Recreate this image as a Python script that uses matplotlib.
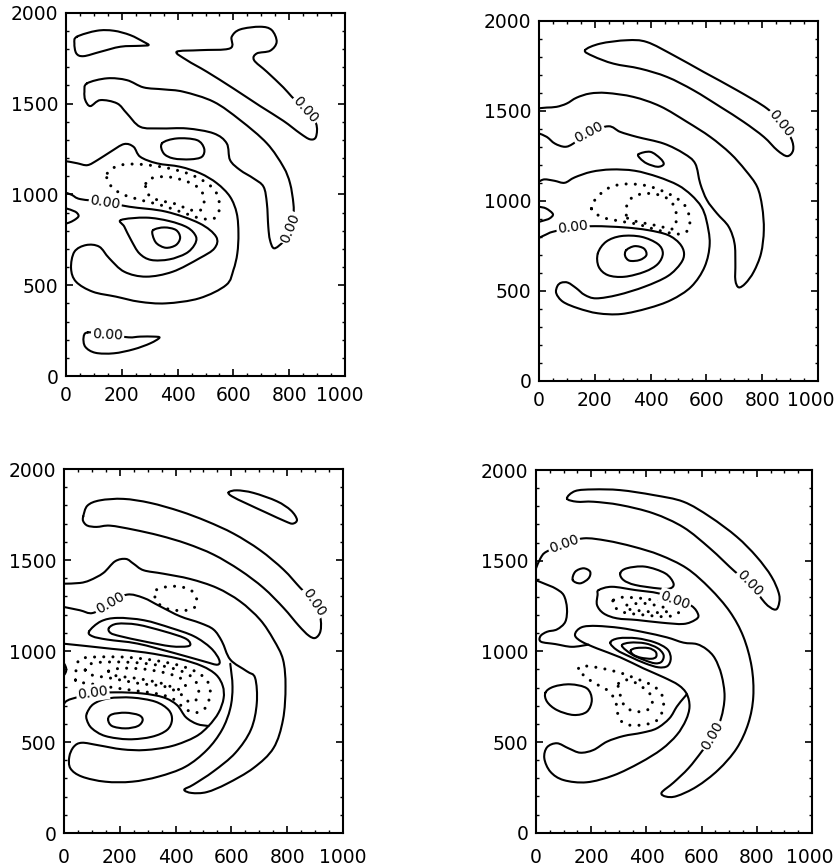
import numpy as np
import matplotlib
matplotlib.use("Agg")
import matplotlib.pyplot as plt
from matplotlib.path import Path
from matplotlib.patches import PathPatch
from matplotlib.ticker import MultipleLocator, FuncFormatter
from matplotlib.transforms import offset_copy

# contour traces, data units (x 0-1000, y 0-2000)

# ---- top left
tl_blob = [(39,1868),(111,1901),(171,1901),(230,1877),(278,1840),(296,1822),(266,1818),
           (195,1813),(123,1785),(63,1761),(37,1776),(30,1831)]
tl_hook = [(397,1785),(481,1794),(588,1804),(594,1868),(624,1908),(696,1923),(737,1905),
           (755,1840),(732,1791),(684,1776),(674,1739),(720,1675),(779,1589),(809,1538),
           (857,1464),(896,1391),(896,1317),(875,1303),(839,1336),(779,1405),(696,1486),
           (600,1583),(505,1675),(433,1739)]
tl_arc = [(75,1611),(147,1639),(218,1629),(278,1589),(350,1578),(421,1565),(529,1510),
          (624,1409),(720,1281),(779,1152),(803,1061),(815,950),(815,877),(803,785),
          (779,739),(746,703),(731,749),(725,822),(720,950),(708,1042),(672,1088),
          (624,1134),(588,1189),(576,1281),(529,1336),(433,1363),(338,1363),(266,1372),
          (218,1446),(183,1501),(123,1519),(87,1486),(69,1519),(66,1565)]
tl_small = [(344,1281),(397,1308),(469,1299),(495,1253),(487,1207),(445,1193),(385,1198),(350,1226)]
tl_band = [(0,1182),(11,1180),(41,1171),(77,1161),(113,1189),(160,1235),(208,1277),(242,1262),
           (266,1207),(326,1171),(409,1152),(481,1116),(541,1061),(588,987),(612,895),
           (618,785),(614,675),(600,584),(574,501),(478,428),(358,400),(263,409),(179,437),
           (96,464),(36,519),(18,593),(30,684),(72,721),(119,712),(155,648),(209,574),
           (287,547),(382,574),(478,648),(532,703),(538,767),(478,841),(358,905),(227,932),
           (141,958),(51,974),(21,997),(0,1009)]
tl_tri = [(197,859),(287,872),(370,853),(436,817),(466,767),(460,721),(430,675),(370,642),
          (305,639),(263,675),(233,749),(209,822)]
tl_core = [(313,804),(352,818),(394,804),(409,762),(394,721),(358,706),(325,730),(311,773)]
tl_edge = [(0,923),(33,905),(45,881),(30,859),(10,844),(0,840)]
tl_low = [(78,240),(63,213),(69,161),(105,128),(171,125),(242,147),(302,180),(335,211),
          (314,217),(266,217),(224,213),(149,229)]
tl_neg1 = [(148,1116),(184,1156),(244,1167),(340,1152),(435,1116),(507,1060),(543,996),
           (549,914),(531,868),(483,868),(411,904),(340,941),(268,969),(196,1005),(154,1060)]
tl_neg2 = [(286,1060),(304,1088),(363,1097),(435,1070),(483,1024),(495,960),(483,914),
           (447,914),(387,950),(328,969),(292,1005)]
tl_labels = [(857,1464,-48),(141,958,-9),(805,813,68),(149,229,-3)]

# ---- top right
tr_top = [(165,1837),(219,1874),(315,1893),(387,1883),(483,1809),(590,1717),(710,1615),
          (818,1513),(866,1430),(904,1347),(911,1282),(890,1249),(854,1282),(806,1356),
          (734,1439),(650,1523),(554,1615),(459,1689),(363,1735),(267,1763),(195,1804)]
tr_band = [(0,1515),(28,1519),(63,1523),(99,1541),(135,1574),(183,1597),(243,1600),(339,1578),
           (435,1526),(531,1439),(614,1356),(686,1264),(740,1171),(782,1079),(800,968),
           (806,838),(796,709),(770,607),(740,542),(716,520),(704,560),(704,653),(701,764),
           (680,857),(638,931),(602,1005),(578,1097),(560,1208),(519,1264),(447,1319),
           (351,1356),(291,1384),(249,1415),(177,1380),(123,1319),(93,1301),(57,1319),
           (28,1356),(0,1375)]
tr_blob = [(357,1260),(399,1273),(435,1236),(447,1204),(425,1190),(387,1208),(363,1236)]
tr_main = [(0,1108),(20,1120),(56,1112),(92,1101),(128,1131),(188,1162),(259,1175),(343,1168),
           (426,1134),(498,1088),(546,1033),(582,968),(600,894),(612,764),(594,635),(546,524),
           (474,450),(391,404),(295,372),(211,376),(140,404),(86,440),(62,487),(66,527),
           (80,546),(104,546),(134,515),(164,478),(205,459),(283,478),(379,524),(462,583),
           (508,653),(520,709),(504,764),(462,811),(391,838),(307,853),(200,860),(122,852),
           (50,829),(26,814),(0,795)]
tr_ell = [(211,709),(241,774),(295,805),(367,801),(426,761),(444,709),(426,650),(379,607),
          (307,579),(247,588),(214,635)]
tr_core = [(313,727),(343,749),(376,736),(385,699),(361,672),(325,668),(309,694)]
tr_edge = [(0,968),(26,958),(50,927),(38,903),(14,890),(0,884)]
tr_neg1 = [(188,958),(205,1014),(247,1070),(307,1094),(391,1083),(474,1033),(522,977),
           (540,903),(534,838),(498,816),(426,838),(355,870),(283,890),(223,912)]
tr_neg2 = [(313,921),(317,986),(343,1027),(391,1042),(450,1023),(486,968),(492,894),
           (480,845),(426,862),(367,880),(325,897)]
tr_labels = [(866,1430,-51),(177,1380,28),(122,852,7)]

# ---- bottom left
bl_top = [(590,1872),(620,1883),(679,1869),(763,1823),(813,1773),(835,1722),(820,1700),
          (793,1713),(727,1759),(655,1810),(602,1850)]
bl_arc = [(69,1740),(84,1799),(129,1828),(213,1836),(309,1814),(416,1768),(512,1713),
          (608,1645),(703,1554),(787,1447),(847,1347),(897,1268),(919,1182),(919,1108),
          (901,1072),(877,1085),(841,1140),(787,1237),(715,1347),(631,1444),(536,1530),
          (440,1590),(344,1634),(249,1667),(165,1689),(117,1682),(84,1689),(69,1713)]
bl_outer = [(0,1242),(57,1224),(103,1209),(165,1262),(226,1310),(285,1292),(344,1246),
            (416,1191),(488,1154),(536,1118),(566,1053),(596,953),(655,889),(685,852),
            (691,714),(670,568),(614,440),(536,339),(464,266),(431,238),(458,220),(512,225),
            (584,271),(679,357),(751,467),(785,623),(794,806),(785,953),(751,1063),(703,1172),
            (631,1273),(548,1347),(452,1396),(356,1425),(285,1444),(249,1480),(222,1506),
            (183,1493),(141,1429),(93,1389),(57,1374),(0,1370)]
bl_ring = [(90,1108),(132,1163),(191,1182),(287,1169),(383,1127),(466,1081),(526,1017),
           (556,953),(550,925),(502,943),(395,989),(263,1041),(155,1063),(102,1081)]
bl_ring_core = [(161,1127),(191,1150),(263,1145),(359,1108),(431,1072),(452,1044),(443,1026),
                (383,1026),(287,1053),(203,1081),(167,1099)]
bl_hook = [(0,1040),(64,1030),(172,1012),(291,992),(411,958),(494,918),(545,870),(569,808),
           (572,740),(554,661),(518,588),(471,529),(387,478),(291,456),(208,460),(124,482),
           (64,496),(35,474),(19,419),(23,355),(64,310),(148,282),(244,282),(339,310),
           (435,364),(512,456),(566,566),(596,685),(604,804),(596,930)]
bl_zero = [(0,709),(7,723),(29,738),(103,765),(184,773),(280,767),(357,745),(405,703),
           (437,636),(477,599),(518,588)]
bl_max = [(82,658),(106,709),(160,740),(244,744),(327,722),(375,676),(387,621),(369,566),
          (315,529),(232,515),(148,533),(100,575),(82,621)]
bl_max_core = [(158,625),(172,652),(220,661),(268,648),(282,621),(265,588),(220,575),(172,588)]
bl_edge = [(0,932),(7,910),(7,886),(0,868)]
bl_neg1 = [(41,841),(47,925),(64,960),(136,968),(232,965),(327,948),(411,922),(471,888),
           (507,848),(524,795),(518,722),(501,679),(471,661),(441,676),(413,709),(387,740),
           (339,764),(256,782),(172,800),(100,819),(58,828)]
bl_neg2 = [(76,896),(100,932),(172,940),(268,935),(363,915),(435,880),(471,835),(483,777),
           (471,727),(447,722),(423,758),(363,804),(268,822),(172,850),(100,868)]
bl_neg3 = [(160,890),(208,905),(291,900),(375,875),(423,845),(435,804),(411,789),(351,822),
           (268,848),(184,865)]
bl_neg4 = [(332,1337),(392,1356),(452,1337),(476,1282),(464,1235),(416,1222),(356,1240),(327,1292)]
bl_labels = [(897,1268,-56),(165,1262,30),(103,770,8)]

# ---- bottom right
br_top = [(112,1843),(142,1884),(208,1893),(305,1889),(425,1862),(534,1825),(630,1742),
          (727,1632),(799,1522),(853,1412),(881,1311),(877,1246),(862,1231),(829,1268),
          (775,1375),(721,1439),(630,1568),(534,1684),(425,1761),(305,1807),(208,1825),(148,1825)]
br_main = [(0,1458),(16,1513),(37,1549),(102,1590),(172,1623),(257,1610),(353,1577),(449,1531),
           (546,1458),(630,1347),(702,1219),(751,1081),(781,915),(787,750),(769,603),(727,465),
           (660,346),(582,254),(510,202),(471,199),(455,221),(498,276),(552,355),(600,447),
           (640,533),(670,630),(683,750),(672,869),(648,961),(618,1011),(582,1040),(534,1048),
           (474,1077),(389,1106),(305,1129),(221,1140),(172,1136),(148,1114),(142,1084),
           (166,1053),(221,1016),(305,967),(389,906),(462,857),(516,814),(546,765),(556,695),
           (543,621),(510,539),(455,460),(377,386),(281,316),(184,278),(100,290),(52,336),
           (30,410),(40,471),(76,493),(118,465),(160,441),(208,456),(257,502),(317,533),
           (383,551),(437,575),(483,630),(510,695),(534,741),(546,762)]
br_lobe = [(0,1392),(34,1371),(70,1347),(100,1310),(112,1237),(106,1163),(76,1121),(40,1108),
           (16,1084),(18,1053),(70,1040),(130,1025),(190,1037)]
br_upper = [(227,1338),(275,1356),(359,1338),(443,1320),(504,1283),(564,1250),(588,1200),
            (576,1173),(534,1151),(455,1158),(365,1173),(293,1182),(245,1209),(221,1255),(223,1311)]
br_ell = [(305,1430),(329,1458),(395,1467),(468,1430),(498,1375),(486,1347),(443,1347),
          (359,1366),(317,1393)]
br_blob = [(133,1393),(142,1439),(172,1458),(196,1439),(190,1402),(160,1375)]
br_max1 = [(269,1048),(299,1072),(365,1072),(431,1049),(476,1011),(488,961),(476,919),
           (443,912),(395,934),(341,970),(293,1007)]
br_max2 = [(311,1031),(341,1048),(395,1044),(440,1018),(462,980),(455,943),(431,934),
           (392,952),(347,983)]
br_max3 = [(343,1004),(363,1018),(407,1018),(433,998),(435,970),(418,959),(380,965),(353,981)]
br_low = [(34,772),(64,805),(124,818),(184,796),(202,732),(184,667),(136,649),(76,676),(40,722)]
br_neg1 = [(281,1283),(311,1298),(383,1292),(455,1274),(510,1250),(522,1228),(504,1200),
           (462,1191),(395,1200),(323,1213),(290,1237),(278,1261)]
br_neg2 = [(329,1255),(389,1265),(455,1246),(480,1228),(455,1213),(389,1222),(335,1233)]
br_neg3 = [(154,906),(178,919),(239,906),(311,879),(359,851),(407,823),(443,787),(462,732),
           (455,658),(431,612),(383,594),(335,594),(305,621),(293,676),(287,732),(257,787),
           (214,823),(178,860)]
br_neg4 = [(299,823),(335,842),(383,805),(419,750),(413,686),(365,667),(323,695),(305,759)]
br_labels = [(775,1375,-46),(102,1590,20),(640,533,60),(504,1283,-20)]

# (solid closed, solid open, dotted closed, labels, axes rect, x pad in pt, shift of "1000" in pt)
panels = [
    ([tl_blob, tl_hook, tl_arc, tl_small, tl_tri, tl_core, tl_low], [tl_band, tl_edge],
     [tl_neg1, tl_neg2], tl_labels, [0.0787, 0.5663, 0.3325, 0.4190], 7, -4),
    ([tr_top, tr_blob, tr_ell, tr_core], [tr_band, tr_main, tr_edge],
     [tr_neg1, tr_neg2], tr_labels, [0.6424, 0.5606, 0.3325, 0.4152], 7, -5.5),
    ([bl_top, bl_arc, bl_ring, bl_ring_core, bl_max, bl_max_core],
     [bl_outer, bl_hook, bl_zero, bl_edge],
     [bl_neg1, bl_neg2, bl_neg3, bl_neg4], bl_labels, [0.0763, 0.0392, 0.3325, 0.4198], 11, 0),
    ([br_top, br_upper, br_ell, br_blob, br_max1, br_max2, br_max3, br_low],
     [br_main, br_lobe],
     [br_neg1, br_neg2, br_neg3, br_neg4], br_labels, [0.6389, 0.0396, 0.3290, 0.4183], 11, -1.5),
]


def trace(pts, closed):
    # Catmull-Rom curve through the traced points
    p = np.asarray(pts, float)
    n = len(p)
    verts = [p[0]]
    codes = [Path.MOVETO]
    for i in range(n if closed else n - 1):
        p1, p2 = p[i], p[(i + 1) % n]
        if closed:
            p0, p3 = p[i - 1], p[(i + 2) % n]
        else:
            p0 = p[i - 1] if i > 0 else p1
            p3 = p[i + 2] if i + 2 < n else p2
        verts += [p1 + (p2 - p0) / 6, p2 - (p3 - p1) / 6, p2]
        codes += [Path.CURVE4] * 3
    return Path(verts, codes)


plt.rcParams["font.family"] = "DejaVu Sans"
fig = plt.figure(figsize=(8.39, 8.67), dpi=100)
tick_size = 13.5

for closed_set, open_set, neg_set, labels, rect, xpad, shift in panels:
    ax = fig.add_axes(rect)
    for pts in closed_set:
        ax.add_patch(PathPatch(trace(pts, True), fill=False, ec="black", lw=1.5,
                               joinstyle="round", capstyle="round"))
    for pts in open_set:
        ax.add_patch(PathPatch(trace(pts, False), fill=False, ec="black", lw=1.5,
                               joinstyle="round", capstyle="round"))
    for pts in neg_set:
        ax.add_patch(PathPatch(trace(pts, True), fill=False, ec="black", lw=2.2,
                               linestyle=(0, (0.01, 3.0)), capstyle="round"))
    for x, y, rot in labels:
        ax.text(x, y, "0.00", rotation=rot, rotation_mode="anchor", ha="center",
                va="center", fontsize=10, zorder=5,
                bbox=dict(boxstyle="square,pad=0.1", fc="white", ec="none"))

    ax.set_xlim(0, 1000)
    ax.set_ylim(0, 2000)
    ax.xaxis.set_major_locator(MultipleLocator(200))
    ax.xaxis.set_minor_locator(MultipleLocator(50))
    ax.yaxis.set_major_locator(MultipleLocator(500))
    ax.yaxis.set_minor_locator(MultipleLocator(100))
    ax.tick_params(which="both", direction="in", top=True, right=True, labelsize=tick_size)
    ax.tick_params(which="major", length=5, width=1.2)
    ax.tick_params(which="minor", length=2.5, width=1.0)
    ax.tick_params(axis="x", pad=xpad)
    ax.tick_params(axis="y", pad=5.5)
    for s in ax.spines.values():
        s.set_linewidth(1.5)

    if shift:
        # in the scan the "1000" label sits a little left of the axis end
        ax.xaxis.set_major_formatter(FuncFormatter(lambda v, pos: "" if v >= 1000 else f"{v:.0f}"))
        tr = offset_copy(ax.get_xaxis_transform(), fig=fig, x=shift, y=-xpad, units="points")
        ax.text(1000, 0, "1000", transform=tr, ha="center", va="top",
                fontsize=tick_size, clip_on=False)

fig.savefig("out.png", dpi=100)
